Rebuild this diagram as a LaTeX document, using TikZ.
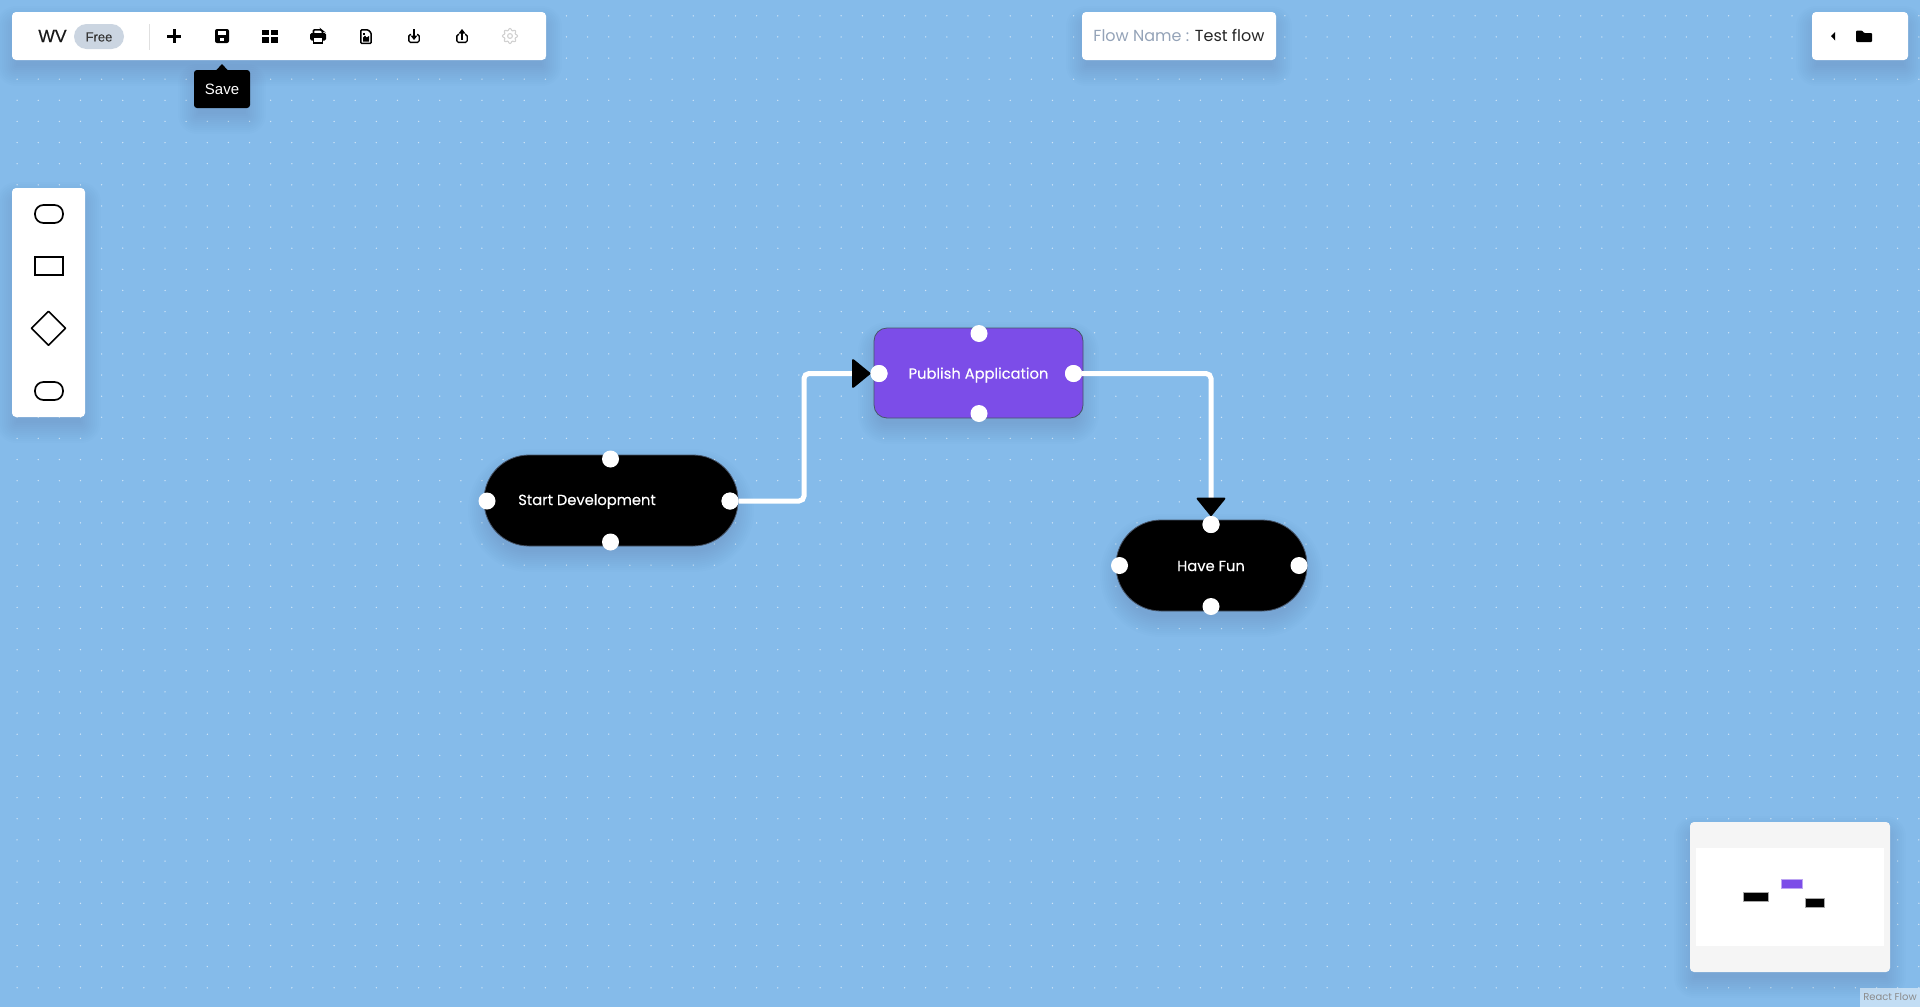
\documentclass[tikz,border=0pt]{standalone}
\usepackage{fontspec}
\setmainfont{Poppins}
\newfontfamily\uifont{Liberation Sans}
\newfontfamily\uibold[FakeBold=0.35]{Liberation Sans}
\newfontfamily\medfont[FakeBold=0.25]{Poppins}
\usetikzlibrary{arrows.meta}
\definecolor{bgblue}{HTML}{85BBEA}
\definecolor{violetnode}{HTML}{7C4DE8}
\definecolor{pillgray}{HTML}{CBD5E1}
\definecolor{nameGray}{HTML}{94A3B8}
\definecolor{slateedge}{HTML}{475569}
\newcommand{\softshadow}[5]{%
  \foreach \k in {-4,-2,...,16}{%
    \pgfmathsetmacro\rr{max(#5+\k,0.5)}%
    \fill[black,opacity=0.0085,rounded corners=\rr pt] ({#1-\k},{#2-\k+10}) rectangle ({#3+\k},{#4+\k+10});%
  }%
}
\tikzset{
  panel/.style={fill=white,rounded corners=4pt,inner sep=0pt,outer sep=0pt},
  pillnode/.style={fill=black,draw=slateedge,line width=.8pt,rounded corners=45pt,inner sep=0pt,text=white,minimum height=91pt},
  boxnode/.style={fill=violetnode,draw=slateedge,line width=.8pt,rounded corners=13pt,inner sep=0pt,text=white,minimum height=90pt,minimum width=209pt},
  nodelabel/.style={inner sep=0pt,text=white,font=\medfont\fontsize{14.7}{18}\selectfont},
  handle/.style={circle,fill=white,minimum size=17pt,inner sep=0pt,outer sep=0pt},
  edge/.style={draw=white,line width=5pt,rounded corners=5pt,-{Triangle[length=19pt,width=30.5pt,round,line width=2pt,black]}},
  shapeicon/.style={draw=black,line width=1.7pt,inner sep=0pt,minimum width=28pt,minimum height=18pt},
  mini/.style={inner sep=0pt,outer sep=0pt},
  dotc/.style={fill=white,opacity=.6},
  ink/.style={fill=black,draw=none},
}
\begin{document}
\begin{tikzpicture}[x=1pt,y=-1pt]
\useasboundingbox (0,0) rectangle (1920,1007);
\fill[bgblue] (0,0) rectangle (1920,1007);
% background dots
\foreach \i in {0,...,90}{
  \foreach \j in {-1,0,...,47}{
    \fill[dotc] ({17.1+21.13*\i},{15.8+21.13*\j}) circle (.75pt);
  }
}
% shadows
\softshadow{12}{12}{546}{60}{4}
\softshadow{1082}{12}{1276}{60}{4}
\softshadow{1812}{12}{1908}{60}{4}
\softshadow{12}{188}{85}{417}{4}
\softshadow{194}{70}{250}{108}{3}
\softshadow{1690}{822}{1890}{972}{4}
\softshadow{484}{455}{738}{546}{45}
\softshadow{874}{328}{1083}{418}{13}
\softshadow{1116}{520}{1307}{611}{45}

% top toolbar
\node[panel,minimum width=534pt,minimum height=48pt] (toolbar) at (279,36) {};
\node[inner sep=0pt,font=\uibold\fontsize{17.5}{20}\selectfont,text=black!90] (wv) at (52.5,36) {WV};
\node[fill=pillgray,rounded corners=12.5pt,minimum width=50pt,minimum height=25pt,inner sep=0pt] (free) at (99,36.5) {};
\node[inner sep=0pt,text=black!78,font=\uibold\fontsize{13}{15}\selectfont] (freelabel) at (99,37) {Free};
\fill[black!12] (148.5,24) rectangle (150,50);
% plus
\fill[ink] (167,34.5) rectangle (181,37.6);
\fill[ink] (172.5,29) rectangle (175.6,43);
% save
\fill[ink,rounded corners=2pt] (215,29) rectangle (229,43);
\fill[white] (218,31) rectangle (226,34.5);
\fill[white] (220.3,37.5) rectangle (223.7,41);
% grid
\fill[ink] (262,29.5) rectangle (269.4,35.4);
\fill[ink] (270.6,29.5) rectangle (278,35.4);
\fill[ink] (262,36.6) rectangle (269.4,42.8);
\fill[ink] (270.6,36.6) rectangle (278,42.8);
% print
\draw[black,line width=1.6pt,rounded corners=1pt] (313.5,33.5) -- (313.5,29.8) -- (321,29.8) -- (322.5,31) -- (322.5,33.5);
\fill[ink,rounded corners=1.5pt] (310,33) rectangle (326,40.5);
\fill[white] (314,38) rectangle (322,41);
\draw[black,line width=1.6pt] (313.5,37.5) rectangle (322.5,43.2);
\fill[white] (315,38.3) rectangle (321,42.4);
% file
\draw[black,line width=1.5pt,rounded corners=1pt] (360.8,29.8) -- (368,29.8) -- (371.2,33) -- (371.2,43.4) -- (360.8,43.4) -- cycle;
\fill[ink] (363,40.5) -- (363,37.5) -- (365,35.5) -- (366.5,37.5) -- (369,36) -- (369,41.5) -- (363,41.5) -- cycle;
\fill[ink] (363,32.5) rectangle (365.2,34.6);
% download
\draw[black,line width=1.4pt,rounded corners=1.5pt] (411,34.5) -- (408.8,34.5) -- (408.8,42.3) -- (419.2,42.3) -- (419.2,34.5) -- (417,34.5);
\draw[black,line width=1.7pt] (414,29) -- (414,36);
\fill[ink] (410.5,35.5) -- (417.5,35.5) -- (414,40) -- cycle;
% upload
\draw[black,line width=1.4pt,rounded corners=1.5pt] (459,34.5) -- (456.8,34.5) -- (456.8,42.3) -- (467.2,42.3) -- (467.2,34.5) -- (465,34.5);
\draw[black,line width=1.7pt] (462,33) -- (462,39.5);
\fill[ink] (458.5,33.5) -- (465.5,33.5) -- (462,29) -- cycle;
% gear
\draw[black!18,line width=1.1pt] plot[domain=0:360,samples=121,smooth] ({510+(6.6+.9*cos(8*\x))*cos(\x)},{36+(6.6+.9*cos(8*\x))*sin(\x)}) -- cycle;
\draw[black!18,line width=1.1pt] (510,36) circle (2.4pt);

% tooltip
\fill[black] (216,70.5) -- (222,64) -- (228,70.5) -- cycle;
\node[fill=black,rounded corners=3pt,minimum width=56pt,minimum height=38pt,inner sep=0pt] (tooltip) at (222,89) {};
\node[inner sep=0pt,text=white,font=\uifont\fontsize{15}{17}\selectfont] (tooltiplabel) at (222,89.3) {Save};

% flow name
\node[panel,minimum width=194pt,minimum height=48pt] (flowname) at (1179,36) {};
\node[inner sep=0pt,font=\fontsize{16}{18}\selectfont] (flownamelabel) at (1179,35) {\textcolor{nameGray}{Flow Name :} \textcolor{black!85}{Test flow}};

% right panel
\node[panel,minimum width=96pt,minimum height=48pt] (folderpanel) at (1860,36) {};
\fill[ink] (1835.2,32) -- (1835.2,40.5) -- (1831,36.2) -- cycle;
\fill[ink,rounded corners=1pt] (1856,30.5) -- (1862,30.5) -- (1864,33) -- (1872,33) -- (1872,42) -- (1856,42) -- cycle;

% shapes sidebar
\node[panel,minimum width=73pt,minimum height=229pt] (sidebar) at (48.5,302.5) {};
\node[shapeicon,rounded corners=8.5pt] (iconpill) at (49,214) {};
\node[shapeicon] (iconrect) at (49,266) {};
\draw[black,line width=1.5pt,line join=round] (48.5,311.3) -- (65.5,328.3) -- (48.5,345.3) -- (31.5,328.3) -- cycle;
\node[shapeicon,rounded corners=8.5pt] (iconpilltwo) at (49,391) {};

% flow nodes
\node[pillnode,minimum width=254pt] (start) at (611,500.5) {};
\node[boxnode] (publish) at (978.5,373) {};
\node[pillnode,minimum width=191pt] (fun) at (1211.5,565.5) {};
\node[nodelabel] (startlabel) at (587,501.5) {Start Development};
\node[nodelabel] (publishlabel) at (978.5,375) {Publish Application};
\node[nodelabel] (funlabel) at (1211,566) {Have Fun};

\coordinate (bendA) at (804,501);
\coordinate (bendB) at (804,373.5);
\coordinate (bendC) at (1211,373.5);
\node[handle] (st) at (610.5,459) {};
\node[handle] (sb) at (610.5,542) {};
\node[handle] (sl) at (487,501) {};
\node[handle] (sr) at (730,501) {};
\node[handle] (pt) at (979,333.5) {};
\node[handle] (pb) at (979,413.5) {};
\node[handle] (pl) at (879,373.5) {};
\node[handle] (pr) at (1073.5,373.5) {};
\node[handle] (ft) at (1211,524.5) {};
\node[handle] (fb) at (1211,606.5) {};
\node[handle] (fl) at (1119.5,565.5) {};
\node[handle] (fr) at (1299,565.5) {};
\draw[edge] (sr.east) -- (bendA) -- (bendB) -- (pl.west);
\draw[edge] (pr.east) -- (bendC) -- (ft.north);
\fill[white] (pl) circle (8.5pt);
\fill[white] (ft) circle (8.5pt);
\fill[white] (sr) circle (8.5pt);
\fill[white] (pr) circle (8.5pt);

% minimap
\node[panel,fill=black!4,minimum width=200pt,minimum height=150pt] (minimap) at (1790,897) {};
\node[mini,fill=white,minimum width=188pt,minimum height=98.5pt] (minimapview) at (1790,897) {};
\node[mini,fill=black,draw=black!35,line width=.6pt,minimum width=25.5pt,minimum height=9pt] (mstart) at (1755.7,896.5) {};
\node[mini,fill=violetnode,draw=violetnode!50,line width=.6pt,minimum width=20.5pt,minimum height=9pt] (mpublish) at (1791.8,884.2) {};
\node[mini,fill=black,draw=black!35,line width=.6pt,minimum width=19pt,minimum height=8.5pt] (mfun) at (1814.5,903) {};

% attribution
\node[mini,fill=white,fill opacity=.5,text opacity=1,text=black!45,minimum width=60pt,minimum height=19.5pt,font=\fontsize{10}{12}\selectfont] (attr) at (1890,997.3) {React Flow};
\end{tikzpicture}
\end{document}
